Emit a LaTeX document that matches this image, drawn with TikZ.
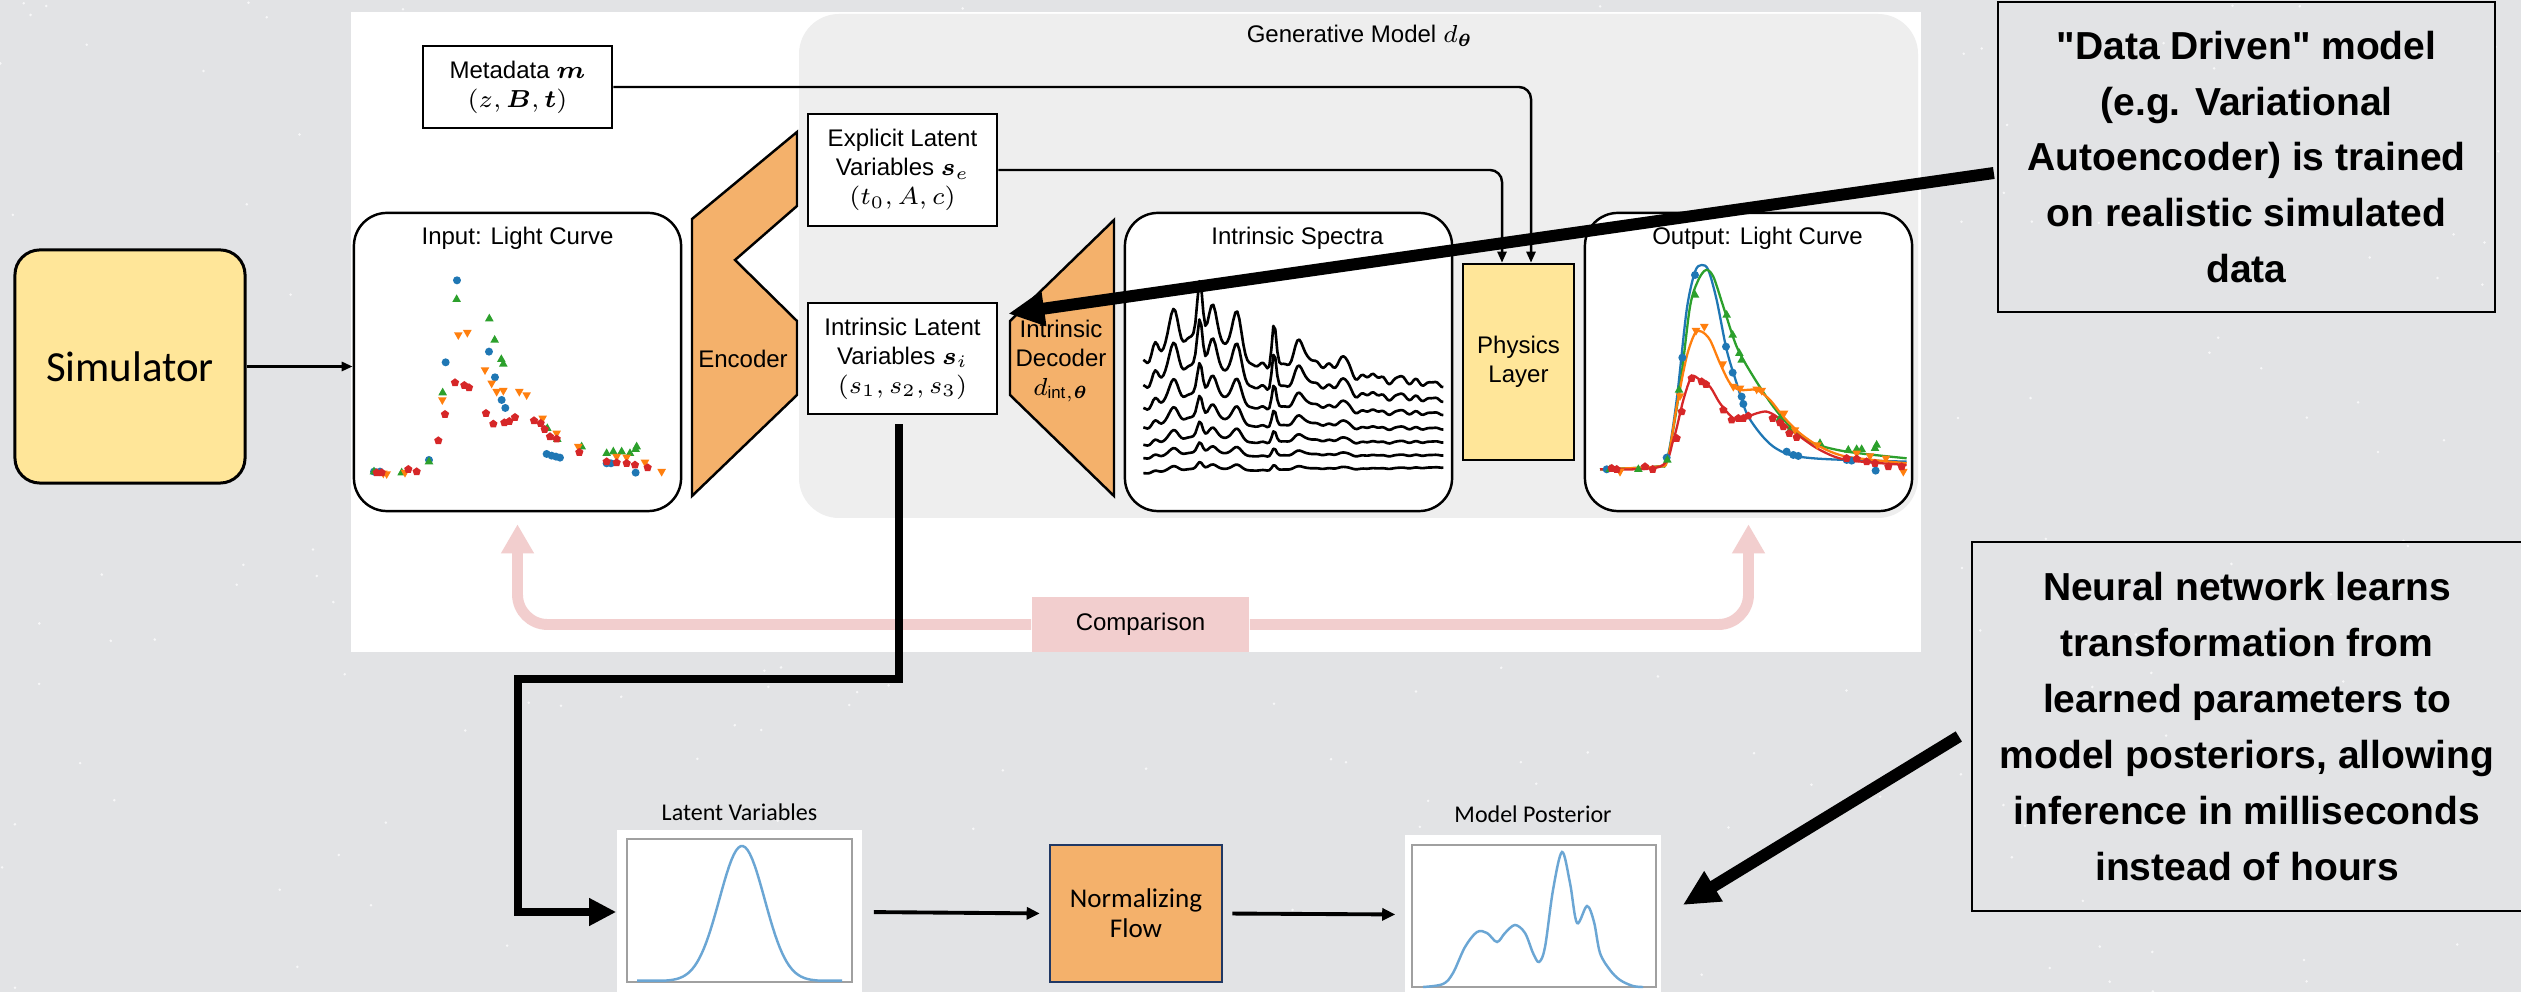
\documentclass[tikz,border=0pt]{standalone}
\usepackage{amsmath}
\usepackage{fontspec}
\setmainfont{Liberation Sans}
\newfontfamily\officefont{Carlito}
\newfontfamily\noteface{Liberation Sans}
\usetikzlibrary{arrows.meta,calc}

\definecolor{skyGray}{RGB}{226,227,229}
\definecolor{genGray}{RGB}{238,238,238}
\definecolor{simYellow}{RGB}{255,230,153}
\definecolor{coderOrange}{RGB}{244,177,107}
\definecolor{flowNavy}{RGB}{32,56,100}
\definecolor{cmpPink}{RGB}{242,206,206}
\definecolor{kdeBlue}{RGB}{107,166,212}
\definecolor{axGray}{RGB}{160,160,160}
\definecolor{mplBlue}{HTML}{1F77B4}
\definecolor{mplOrange}{HTML}{FF7F0E}
\definecolor{mplGreen}{HTML}{2CA02C}
\definecolor{mplRed}{HTML}{D62728}

\newcommand{\diagfont}{\fontsize{6.83}{8.25}\selectfont}
\newcommand{\notefont}{\noteface\bfseries\fontsize{11.1}{15.9}\selectfont}
\newcommand{\officesmall}{\officefont\fontsize{6.83}{8.2}\selectfont}

% light curve markers (panel units)
\newcommand{\mkcirc}[2]{\fill[mplBlue] (#1,#2) circle (12);}
\newcommand{\mkup}[2]{\fill[mplGreen] (#1,#2) ++(0,-15) -- ++(13,23) -- ++(-26,0) -- cycle;}
\newcommand{\mkdown}[2]{\fill[mplOrange] (#1,#2) ++(0,15) -- ++(13,-23) -- ++(-26,0) -- cycle;}
\newcommand{\mkpent}[2]{\fill[mplRed] (#1,#2) ++(0,-13) -- ++(12.4,9) -- ++(-4.7,14.5) -- ++(-15.3,0) -- ++(-4.7,-14.5) -- cycle;}

\tikzset{
  box/.style={draw, line width=0.7pt, fill=white, font=\diagfont, align=center, inner sep=0pt},
  panel/.style={draw, line width=0.7pt, fill=white, rounded corners=0.33cm, inner sep=0pt},
  lbl/.style={font=\diagfont, align=center, inner sep=0pt},
  coder/.style={draw, line width=0.7pt, fill=coderOrange},
  flow/.style={line width=0.7pt, -{Triangle[length=0.11cm, width=0.09cm]}},
  lowflow/.style={line width=1.1pt, -{Triangle[length=0.13cm, width=0.12cm]}},
  route/.style={line width=2.3pt, -{Triangle[length=0.27cm, width=0.26cm]}},
  cmp/.style={cmpPink, line width=3.1pt, rounded corners=0.3cm, -{Triangle[length=0.29cm, width=0.31cm]}},
  callout/.style={line width=3.4pt, -{Triangle[length=0.36cm, width=0.33cm]}},
  note/.style={draw, line width=0.6pt, font=\notefont, align=center, inner sep=0pt},
  spectrum/.style={line width=0.75pt, line join=round},
  lcfit/.style={line width=0.65pt},
  kde/.style={kdeBlue, line width=0.7pt},
}

\begin{document}
\begin{tikzpicture}[x=0.01cm, y=-0.01cm]
  \useasboundingbox (0,0) rectangle (2521,992);
  \clip (0,0) rectangle (2521,992);

  % sky backdrop
  \fill[skyGray] (0,0) rectangle (2521,992);
  \pgfmathsetseed{11}
  \foreach \s in {1,...,260}{
    \pgfmathsetmacro\sx{2521*rnd}
    \pgfmathsetmacro\sy{992*rnd}
    \fill[white, opacity=0.75] (\sx,\sy) circle (1.4);
  }

  % figure sheet + generative model block
  \fill[white] (351,12) rectangle (1921,652);
  \fill[genGray, rounded corners=0.4cm] (799,14) rectangle (1918,518);
  \node[lbl] (gentitle) at (1360,36) {Generative Model $d_{\boldsymbol{\theta}}$};

  % comparison loop
  \node[fill=cmpPink, minimum width=2.17cm, minimum height=0.55cm, font=\diagfont, inner sep=0pt] (comp) at (1140.5,624.5) {Comparison};

  % boxes
  \node[box, minimum width=1.89cm, minimum height=0.82cm] (meta) at (517.5,87) {Metadata $\boldsymbol{m}$\\$(z, \boldsymbol{B}, \boldsymbol{t})$};
  \node[box, minimum width=1.89cm, minimum height=1.12cm] (elat) at (902.5,170) {Explicit Latent\\Variables $\boldsymbol{s}_e$\\$(t_0, A, c)$};
  \node[box, minimum width=1.89cm, minimum height=1.11cm] (ilat) at (902.5,358.5) {Intrinsic Latent\\Variables $\boldsymbol{s}_i$\\$(s_1, s_2, s_3)$};
  \node[box, fill=simYellow, minimum width=1.11cm, minimum height=1.96cm] (phys) at (1518.5,362) {Physics\\Layer};

  \node[panel, minimum width=3.27cm, minimum height=2.98cm] (inlc) at (517.5,362) {};
  \node[panel, minimum width=3.27cm, minimum height=2.98cm] (spec) at (1288.5,362) {};
  \node[panel, minimum width=3.27cm, minimum height=2.98cm] (outlc) at (1748.5,362) {};
  \node[lbl] at ($(inlc.north)+(0,27)$) {Input: Light Curve};
  \node[lbl] at ($(spec.north)+(9,27)$) {Intrinsic Spectra};
  \node[lbl] at ($(outlc.north)+(9,27)$) {Output: Light Curve};

  \draw[cmp] (comp.west) -| ($(inlc.south)+(0,12)$);
  \draw[cmp] (comp.east) -| ($(outlc.south)+(0,12)$);

  % encoder / decoder
  \draw[coder] (692,219) -- (797,132) -- (797,206) -- (735,260) -- (797,321) -- (797,395) -- (692,496) -- cycle;
  \node[lbl] (enc) at (743,359) {Encoder};
  \draw[coder] (1010,321) -- (1114,220) -- (1114,496) -- (1010,395) -- cycle;
  \node[lbl] (dec) at (1061,361) {Intrinsic\\Decoder\\$d_{\mathrm{int},\boldsymbol{\theta}}$};

  % input light curve
  \begin{scope}[shift={(350,200)}, scale=0.3333]
    \foreach \a/\b in {72/815, 90/815, 237/780, 287/487, 321/241, 417/455, 435/532, 455/600, 466/624, 590/762, 605/767, 618/770, 630/773, 770/790, 783/790, 857/818}
      {\mkcirc{\a}{\b}}
    \foreach \a/\b in {72/815, 155/818, 237/785, 278/578, 320/298, 418/356, 434/420, 454/478, 460/492, 592/685, 622/718, 695/740, 770/760, 790/755, 815/755, 840/760, 857/748, 860/740}
      {\mkup{\a}{\b}}
    \foreach \a/\b in {100/820, 110/822, 165/818, 277/600, 325/405, 352/398, 405/510, 425/550, 440/575, 460/572, 508/575, 530/585, 578/655, 620/700, 685/740, 800/770, 830/772, 885/787, 935/815}
      {\mkdown{\a}{\b}}
    \foreach \a/\b in {80/818, 95/818, 175/808, 200/815, 265/722, 285/643, 315/548, 343/556, 357/563, 408/640, 430/672, 463/668, 478/664, 495/652, 552/662, 572/670, 584/688, 600/710, 620/717, 688/757, 770/785, 800/788, 830/790, 855/795, 893/803}
      {\mkpent{\a}{\b}}
  \end{scope}

  % intrinsic spectra
  \begin{scope}[shift={(1120,200)}, scale=0.3333,
    declare function={bump(\px,\pc,\pw)=exp(-min(abs((\px-\pc)/\pw),3.5)^2);
      sed(\px)=105*bump(\px,250,120)+45*bump(\px,560,110)+45*bump(\px,105,14)+115*bump(\px,158,20)+170*bump(\px,240,11)+100*bump(\px,280,16)+140*bump(\px,350,17)+125*bump(\px,462,9)+65*bump(\px,540,18)+50*bump(\px,670,20)+20*bump(\px,760,15)+15*bump(\px,845,14)+7*sin(7*\px)+4*sin(11*\px+40);}]
    \foreach \lo/\hi/\amp in {500/552/1, 572/598/0.82, 635/640/0.55, 690/685/0.38, 740/725/0.27, 778/765/0.18, 822/802/0.12}
      {\draw[spectrum] plot[domain=70:970, samples=151] (\x, {\lo+(\hi-\lo)/900*(\x-70)-\amp*sed(\x)});}
  \end{scope}

  % output light curve
  \begin{scope}[shift={(1580,200)}, scale=0.3333]
    \draw[lcfit, mplBlue] plot[smooth, tension=0.5] coordinates {(60,808) (230,800) (262,775) (290,600) (320,330) (345,215) (365,195) (385,210) (410,300) (440,450) (470,550) (500,640) (540,700) (580,740) (630,765) (700,775) (800,780) (980,785)};
    \draw[lcfit, mplGreen] plot[smooth, tension=0.5] coordinates {(60,808) (230,800) (262,778) (300,560) (330,320) (355,240) (378,210) (400,230) (430,320) (470,440) (520,530) (580,620) (640,690) (700,730) (800,755) (980,775)};
    \draw[lcfit, mplOrange] plot[smooth, tension=0.5] coordinates {(60,808) (230,800) (262,782) (290,620) (320,470) (345,400) (365,395) (390,420) (420,490) (450,550) (480,570) (530,570) (570,600) (610,650) (660,700) (720,740) (800,770) (980,790)};
    \draw[lcfit, mplRed] plot[smooth, tension=0.5] coordinates {(60,808) (240,800) (280,720) (310,600) (335,530) (360,540) (390,560) (420,610) (460,655) (490,655) (530,640) (560,635) (590,650) (620,680) (660,710) (720,750) (800,780) (980,795)};
    \foreach \a/\b in {80/808, 260/773, 307/473, 345/225, 438/440, 458/518, 485/590, 490/612, 620/755, 640/765, 655/768, 800/780, 815/782, 887/812}
      {\mkcirc{\a}{\b}}
    \foreach \a/\b in {90/808, 175/808, 262/780, 297/570, 345/285, 440/345, 458/405, 478/460, 485/480, 600/655, 630/690, 720/730, 805/750, 830/748, 845/748, 885/745, 890/735}
      {\mkup{\a}{\b}}
    \foreach \a/\b in {120/815, 300/588, 348/392, 373/380, 428/492, 460/560, 480/565, 530/568, 545/572, 612/640, 645/690, 712/735, 830/760, 870/768, 918/775, 970/815}
      {\mkdown{\a}{\b}}
    \foreach \a/\b in {95/805, 110/808, 195/800, 218/808, 290/715, 305/635, 335/535, 365/545, 378/553, 430/630, 455/660, 475/655, 490/655, 505/648, 578/655, 600/668, 610/680, 628/700, 650/712, 800/775, 830/777, 860/785, 885/790, 925/800, 965/800}
      {\mkpent{\a}{\b}}
  \end{scope}

  % inputs to the physics layer
  \draw[flow, rounded corners=0.12cm] (meta.east) -| ($(phys.north)+(12.5,0)$);
  \draw[flow, rounded corners=0.12cm] (elat.east) -| ($(phys.north)+(-16.5,0)$);

  % simulator
  \node[draw, line width=0.85pt, fill=simYellow, rounded corners=0.25cm, minimum width=2.3cm, minimum height=2.33cm, font=\officefont\fontsize{12.2}{14}\selectfont] (sim) at (130,366.5) {Simulator};
  \draw[flow, line width=0.85pt] (sim.east) -- (sim.east -| inlc.west);

  % inference with the flow
  \node[fill=white, minimum width=2.45cm, minimum height=1.64cm, inner sep=0pt] (lat) at (739.5,912) {};
  \draw[axGray, line width=0.3pt] (627,839) rectangle (852,982);
  \draw[kde] plot[domain=637:842, samples=90] (\x, {981-135*exp(-min(abs((\x-742)/22.6),3.5)^2/2)});
  \node[font=\officesmall, inner sep=0pt] (latlbl) at ($(lat.north)+(0,-17)$) {Latent Variables};

  \node[draw=flowNavy, line width=0.7pt, fill=coderOrange, minimum width=1.72cm, minimum height=1.37cm, align=center, inner sep=0pt, font=\officefont\fontsize{7.7}{8.5}\selectfont] (nf) at (1136,913.5) {Normalizing\\Flow};

  \node[fill=white, minimum width=2.56cm, minimum height=1.59cm, inner sep=0pt] (post) at (1533,914.5) {};
  \draw[axGray, line width=0.3pt] (1412,845) rectangle (1656,987);
  \draw[kde] plot[smooth, tension=0.55] coordinates {(1423,987) (1443,984) (1453,973) (1465,947) (1477,932) (1487,933) (1497,942) (1505,933) (1515,925) (1525,933) (1533,953) (1539,962) (1545,947) (1553,890) (1562,852) (1570,883) (1577,923) (1587,906) (1594,922) (1600,953) (1610,970) (1620,980) (1633,986) (1643,987)};
  \node[font=\officesmall, inner sep=0pt] (postlbl) at ($(post.north)+(0,-20)$) {Model Posterior};

  \draw[lowflow, shorten <=0.11cm, shorten >=0.09cm] (lat.east) -- (nf.west);
  \draw[lowflow, shorten <=0.09cm, shorten >=0.09cm] (nf.east) -- (post.west);

  \coordinate (bend) at (518,679);
  \draw[route] ($(ilat.south)+(-3.5,9)$) |- (bend) |- (lat.west);

  % notes
  \node[note, minimum width=4.97cm, minimum height=3.10cm] (note1) at (2246.5,157) {"Data Driven" model\\(e.g. Variational\\Autoencoder) is trained\\on realistic simulated\\data};
  \node[note, minimum width=5.50cm, minimum height=3.69cm] (note2) at (2247,726.5) {Neural network learns\\transformation from\\learned parameters to\\model posteriors, allowing\\inference in milliseconds\\instead of hours};

  \draw[callout] ($(note1.west)+(-3,16)$) -- ($(ilat.north east)+(10,12)$);
  \draw[callout] ($(note2.west)+(-12,10)$) -- ($(post.east)+(21,-9.5)$);
\end{tikzpicture}
\end{document}
